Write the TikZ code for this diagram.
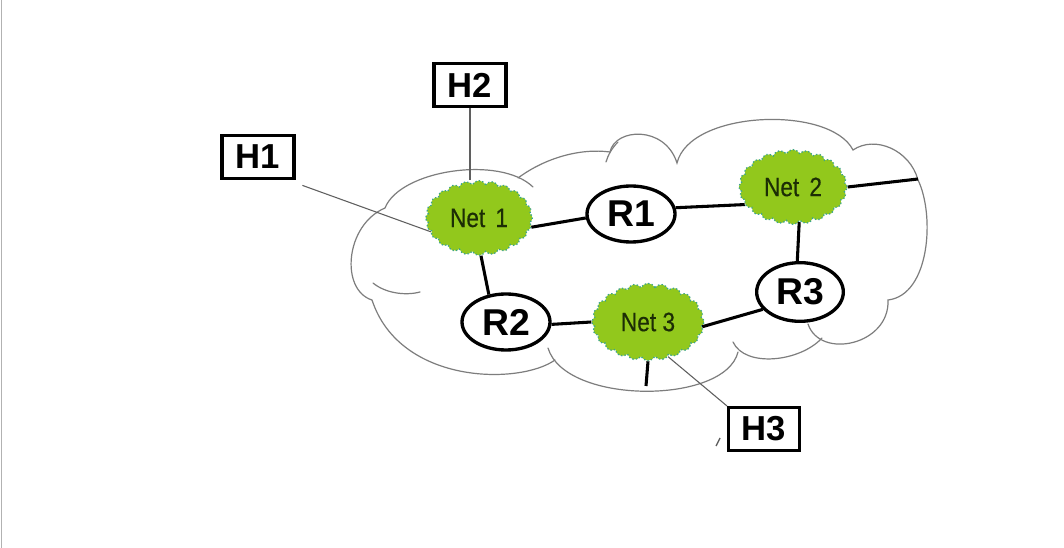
\documentclass[tikz,border=0pt]{standalone}
\usepackage{fontspec}
\usepackage{graphicx}
\setmainfont{Liberation Sans}
\newfontfamily\netfont[FakeBold=0.4]{Liberation Sans}
\usetikzlibrary{shapes.symbols,shapes.geometric}
\definecolor{netgreen}{RGB}{146,200,28}
\definecolor{netedge}{RGB}{60,165,140}
\definecolor{nettext}{RGB}{28,45,5}
\definecolor{cloudgray}{RGB}{125,125,125}
\definecolor{thingray}{RGB}{95,95,95}
\newcommand\nettxt[1]{\scalebox{0.85}[1]{#1}}
\tikzset{
  netnode/.style={cloud, cloud puffs=24, cloud puff arc=125, cloud ignores aspect,
    fill=netgreen, draw=netedge, line width=1pt, dash pattern=on 1pt off 1.6pt,
    inner sep=0pt, text=nettext, font=\netfont\fontsize{20}{22}\selectfont},
  router/.style={ellipse, draw=black, line width=2.5pt, fill=white, inner sep=0pt,
    font=\bfseries\fontsize{28}{30}\selectfont},
  hostbox/.style={rectangle, draw=black, line width=2.6pt, fill=white, inner sep=0pt,
    minimum width=54pt, minimum height=32pt, font=\bfseries\fontsize{26}{28}\selectfont},
  link/.style={draw=black, line width=2.3pt},
  thin/.style={draw=thingray, line width=0.8pt},
  bigcloud/.style={draw=cloudgray, line width=0.9pt, line cap=round}
}
\begin{document}
\begin{tikzpicture}[x=0.75pt,y=-0.75pt]
\useasboundingbox (0,0) rectangle (1064,548);
\fill[white] (0,0) rectangle (1064,548);
\draw[draw=gray!60, line width=0.8pt] (1.5,0) -- (1.5,548);

% big cloud
\draw[bigcloud] (372,300)
  .. controls (340,290) and (345,225) .. (385,208)
  .. controls (400,170) and (500,155) .. (533,187);
\draw[bigcloud] (518,178) .. controls (545,158) and (580,148) .. (610,152)
  .. controls (615,128) and (665,125) .. (677,163)
  .. controls (690,110) and (830,105) .. (853,150)
  .. controls (875,135) and (910,150) .. (918,180)
  .. controls (935,215) and (930,295) .. (888,300)
  .. controls (890,345) and (820,360) .. (808,324);
\draw[bigcloud] (822,338) .. controls (800,362) and (745,368) .. (733,342);
\draw[bigcloud] (738,352) .. controls (725,405) and (565,405) .. (548,348);
\draw[bigcloud] (555,360) .. controls (520,385) and (400,385) .. (372,300);
\draw[bigcloud] (373,283) .. controls (385,293) and (405,296) .. (420,292);
\draw[bigcloud] (606,162) .. controls (608,155) and (612,148) .. (618,142);

% nets
\node[netnode, minimum width=80pt, minimum height=56pt] (n1) at (479,218) {\nettxt{Net\ \,1}};
\node[netnode, minimum width=81pt, minimum height=56pt] (n2) at (793,187) {\nettxt{Net\ \,2}};
\node[netnode, minimum width=84pt, minimum height=58pt] (n3) at (648,322) {\nettxt{Net\ 3}};

% routers
\node[router, minimum width=66pt, minimum height=42pt] (r1) at (631,214) {R1};
\node[router, minimum width=66pt, minimum height=42pt] (r2) at (506,322) {R2};
\node[router, minimum width=65pt, minimum height=44pt] (r3) at (800,292) {R3};

% hosts
\node[hostbox] (h1) at (258,157) {H1};
\node[hostbox] (h2) at (470,85) {H2};
\node[hostbox, minimum width=53pt] (h3) at (764,429) {H3};

\coordinate (e2) at (918,179);
\coordinate (e3) at (646,386);

% links
\draw[link] (n1.-10) -- (r1.185);
\draw[link] (r1.8) -- (n2.200);
\draw[link] (n1.-87) -- (r2.122);
\draw[link] (r2.-3) -- (n3.180);
\draw[link] (n3.-5) -- (r3.205);
\draw[link] (n2.-80) -- (r3.95);
\draw[link] (n2.east) -- (e2);
\draw[link] (n3.south) -- (e3);

% host lines
\draw[thin] ([shift={(5pt,-4pt)}]h1.south east) -- (n1.196);
\draw[thin] (h2.south) -- (h2.south |- n1.north);
\draw[thin] (n3.-60) -- (h3.north west);
\draw[thin, line width=1pt] (716,446) -- (720,438);
\end{tikzpicture}
\end{document}
